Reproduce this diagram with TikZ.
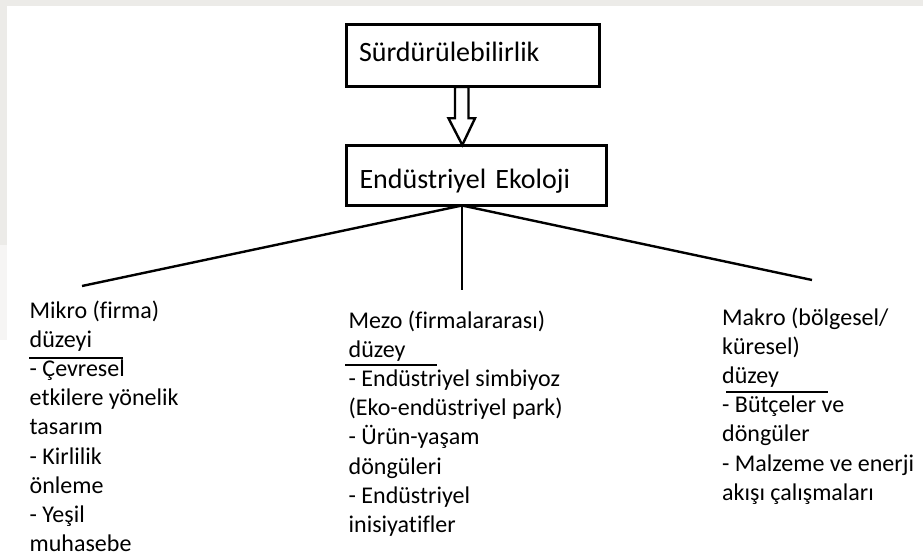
\documentclass[tikz,border=0pt]{standalone}
\usepackage{fontspec}
\setmainfont{Carlito}[Ligatures=NoCommon]
\definecolor{stripgray}{RGB}{236,235,232}
\tikzset{
  titlebox/.style={draw=black, line width=3pt, fill=white, inner ysep=0pt, align=left, font=\fontsize{28}{33}\selectfont},
  column/.style={anchor=base west, inner sep=0pt, font=\fontsize{24}{29.2}\selectfont},
  connector/.style={draw=black, line width=2.4pt},
  rule/.style={draw=black, line width=2.6pt},
  hollowarrow/.style={draw=black, line width=2.4pt, fill=white, line join=miter}
}
\begin{document}
\begin{tikzpicture}[x=1pt,y=-1pt]
\useasboundingbox (0,0) rectangle (923,559);
\fill[white] (0,0) rectangle (923,559);
\fill[stripgray] (0,0) rectangle (923,6);
\fill[stripgray] (0,0) rectangle (7,245);
\fill[stripgray!50] (0,245) rectangle (7,340);

% boxes
\node[titlebox, anchor=base west, inner xsep=12.7pt, text width=228pt,
      text height=37.3pt, text depth=24.5pt] (box1) at (344.8,62) {Sürdürülebilirlik};
\node[titlebox, anchor=base west, inner xsep=13pt, text width=234pt,
      text height=42.2pt, text depth=17pt] (box2) at (345,188) {Endüstriyel Ekoloji};

% hollow arrow between boxes
\draw[hollowarrow] (455,87) -- (468.5,87) -- (468.5,118.3) -- (475,118.3)
  -- (462.3,145) -- (448.5,118.3) -- (455,118.3) -- cycle;

% connectors
\coordinate (apex) at (462,205.5);
\coordinate (leftend) at (82,286);
\coordinate (midend) at (462,290);
\coordinate (rightend) at (812,280);
\draw[connector] (apex) -- (leftend);
\draw[connector] (apex) -- (midend);
\draw[connector] (apex) -- (rightend);

% columns
\node[column] (mikro) at (29.5,318) {\begin{tabular}[t]{@{}l@{}}
Mikro (firma)\\
düzeyi\\
- Çevresel\\
etkilere yönelik\\
tasarım\\
- Kirlilik\\
önleme\\
- Yeşil\\
muhasebe
\end{tabular}};
\node[column] (mezo) at (348.5,328) {\begin{tabular}[t]{@{}l@{}}
Mezo (firmalararası)\\
düzey\\
- Endüstriyel simbiyoz\\
(Eko-endüstriyel park)\\
- Ürün-yaşam\\
döngüleri\\
- Endüstriyel\\
inisiyatifler
\end{tabular}};
\node[column] (makro) at (722,325) {\begin{tabular}[t]{@{}l@{}}
Makro (bölgesel/\\
küresel)\\
düzey\\
- Bütçeler ve\\
döngüler\\
- Malzeme ve enerji\\
akışı çalışmaları
\end{tabular}};

% underlines
\coordinate (ulA1) at (29,358);   \coordinate (ulA2) at (123,358);
\coordinate (ulB1) at (345,365);  \coordinate (ulB2) at (437,365);
\coordinate (ulC1) at (726,392);  \coordinate (ulC2) at (828,392);
\draw[rule] (ulA1) -- (ulA2);
\draw[rule] (ulB1) -- (ulB2);
\draw[rule] (ulC1) -- (ulC2);
\end{tikzpicture}
\end{document}
